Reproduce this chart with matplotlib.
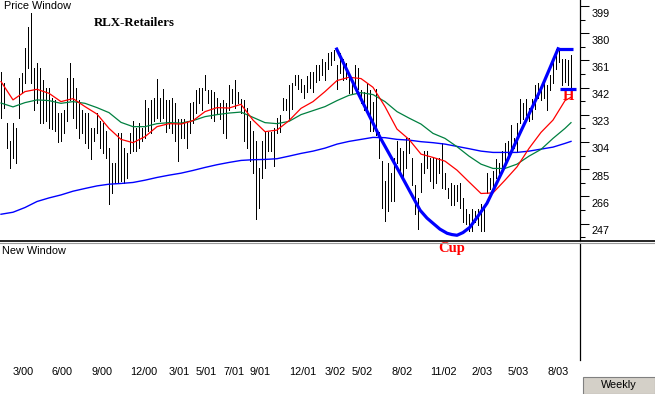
import matplotlib
matplotlib.use('Agg')
import matplotlib.pyplot as plt
import numpy as np
import pandas as pd
from matplotlib.lines import Line2D
from matplotlib.patches import Rectangle
from matplotlib.ticker import AutoMinorLocator
from matplotlib.transforms import ScaledTranslation

plt.rcParams['font.family'] = ['Liberation Sans', 'DejaVu Sans']

# weekly high / low of RLX, one bar per week starting 2000-02-04
start_date = '2000-02-04'
high = [353, 345, 317, 305, 317, 314, 349, 352, 370, 384, 394, 356, 359, 356, 347, 342, 342, 335, 333, 324,
        324, 326, 349, 359, 349, 342, 333, 326, 324, 324, 314, 314, 324, 319, 317, 312, 300, 289, 289, 310,
        310, 300, 296, 310, 319, 314, 317, 314,
        333, 328, 333, 335, 348, 335, 341, 333, 333, 335, 331, 320, 320, 320, 319, 331, 332, 340, 342, 342,
        351, 340, 340, 339, 335, 331, 333, 331, 344, 341, 347, 339, 334, 333, 328, 319, 312, 305, 286, 305,
        311, 311, 311, 314, 321, 323, 335, 334,
        344, 345, 351, 351, 348, 344, 350, 353, 353, 358, 358, 362, 360, 366, 367, 368, 358, 366, 362, 359,
        351, 347, 358, 356, 340, 339, 345, 340, 332, 341, 311, 291, 277, 289, 282, 293, 305, 300, 298, 307,
        307, 293, 274, 265, 289, 298, 298, 293, 293,
        293, 293, 303, 282, 272, 275, 274, 274, 275, 265, 257, 254, 257, 256, 257, 261, 258, 282, 279, 284,
        292, 289, 298, 303, 305, 316, 307, 317, 334, 331, 334, 328, 334, 344, 345, 342, 345, 344, 351, 361,
        369, 370, 362, 362, 361, 365]
low = [321, 328, 300, 286, 293, 289, 321, 338, 345, 356, 345, 326, 331, 317, 317, 319, 314, 313, 312, 304,
       305, 310, 319, 333, 321, 314, 307, 310, 303, 300, 292, 305, 310, 300, 296, 293, 261, 268, 275, 275,
       277, 275, 279, 296, 298, 298, 300, 305,
       307, 312, 310, 319, 321, 319, 321, 311, 314, 310, 305, 291, 307, 307, 300, 310, 317, 324, 331, 326,
       340, 331, 321, 319, 324, 320, 310, 307, 326, 331, 328, 331, 324, 305, 300, 291, 282, 250, 258, 279,
       286, 298, 298, 287, 310, 311, 326, 326,
       320, 327, 344, 341, 339, 335, 339, 342, 339, 346, 347, 351, 347, 355, 358, 361, 341, 352, 347, 348,
       338, 338, 342, 341, 331, 326, 326, 312, 312, 309, 293, 258, 249, 256, 263, 263, 289, 284, 278, 286,
       296, 274, 254, 243, 269, 282, 286, 277, 272,
       275, 282, 272, 271, 265, 260, 260, 263, 258, 248, 247, 242, 242, 248, 246, 242, 242, 268, 271, 272,
       279, 282, 284, 289, 293, 296, 300, 298, 317, 320, 323, 319, 320, 327, 335, 333, 335, 326, 340, 345,
       355, 360, 344, 346, 344, 341]

# moving averages read every 4th week
ma_idx = list(range(0, 189, 4)) + [190]
red_ma = [346.2, 333.4, 339.2, 340.8, 338.0, 332.2, 334.3, 328.7, 323.5, 313.5,
          305.8, 303.5, 307.7, 314.7, 316.8, 316.5, 318.9, 325.2, 328.0, 327.7,
          330.3, 319.3, 311.2, 312.3, 318.9, 327.5, 332.2, 339.2, 346.9, 349.2,
          348.3, 342.2, 328.7, 313.0, 305.8, 295.5, 293.2, 290.6, 284.3, 276.1,
          268.0, 268.4, 277.3, 286.6, 299.5, 310.7, 319.3, 332.9, 335.2]
green_ma = [331.2, 328.5, 331.5, 333.4, 332.9, 331.0, 332.2, 331.0, 328.0, 324.5,
            317.7, 314.7, 314.7, 316.8, 317.5, 317.2, 318.9, 321.7, 323.1, 324.2,
            324.9, 321.2, 317.5, 316.8, 318.4, 323.1, 325.9, 328.7, 332.9, 336.6,
            338.5, 337.1, 332.2, 325.2, 320.7, 316.5, 310.0, 306.5, 300.7, 294.1,
            288.5, 285.5, 285.5, 288.5, 294.1, 298.8, 306.5, 313.5, 317.5]
blue_ma = [253.5, 254.9, 258.2, 262.4, 264.9, 267.0, 269.6, 271.5, 273.3, 274.5,
           275.0, 275.7, 277.3, 279.2, 280.8, 282.2, 284.1, 286.2, 288.1, 289.7,
           291.1, 291.6, 291.8, 292.3, 294.1, 296.0, 297.6, 299.7, 302.5, 304.4,
           305.8, 307.2, 307.0, 305.8, 305.3, 304.2, 303.5, 302.5, 300.9, 299.3,
           297.6, 296.7, 296.7, 296.7, 297.6, 299.0, 300.4, 303.0, 304.4]

# hand drawn cup and handle
cup_x = [111.9, 119.0, 126.3, 133.0, 139.7, 142.0, 144.0, 146.3, 148.7, 150.3, 152.0, 154.0,
         156.3, 159.0, 162.0, 167.3, 173.0, 180.3, 185.7]
cup_y = [368.9, 338.3, 307.4, 282.2, 256.3, 250.8, 247.2, 243.1, 240.2, 239.3, 238.8, 240.7,
         244.4, 252.2, 261.2, 284.3, 310.2, 342.5, 369.1]
rim_x = [185.3, 190.7]
rim_price = 369.1
handle_x = [186.3, 191.7]
handle_price = 341.0

date_labels = ['3/00', '6/00', '9/00', '12/00', '3/01', '5/01', '7/01', '9/01', '12/01',
               '3/02', '5/02', '8/02', '11/02', '2/03', '5/03', '8/03']
y_ticks = [247, 266, 285, 304, 323, 342, 361, 380, 399]

W, H = 655, 394
fig = plt.figure(figsize=(W / 100, H / 100), dpi=100)
ax = fig.add_axes([0, 1 - 240 / H, 580 / W, 240 / H])
ax2 = fig.add_axes([0, 1 - 360 / H, 580 / W, 117 / H])

idx = np.arange(len(high))
ax.vlines(idx, low, high, color='black', lw=0.7, antialiased=False, zorder=2)
ax.plot(ma_idx, blue_ma, color='#0000ff', lw=1.0, zorder=3)
ax.plot(ma_idx, green_ma, color='#008040', lw=0.9, zorder=3)
ax.plot(ma_idx, red_ma, color='#ff0000', lw=0.9, zorder=3)
ax.plot(cup_x, cup_y, color='#0000ff', lw=2.3, zorder=4, solid_joinstyle='round')
ax.plot(rim_x, [rim_price, rim_price], color='#0000ff', lw=2.3, zorder=4, solid_capstyle='butt')
ax.plot(handle_x, [handle_price, handle_price], color='#0000ff', lw=2.3, zorder=4, solid_capstyle='butt')

ax.set_xlim(-1 / 3, 193)
ax.set_ylim(235.5, 403.2)
ax2.set_xlim(-1 / 3, 193)
ax2.set_ylim(0, 1)

for s in ['top', 'left', 'bottom']:
    ax.spines[s].set_visible(False)
    ax2.spines[s].set_visible(False)
ax.spines['right'].set_linewidth(0.9)
ax2.spines['right'].set_linewidth(0.9)
ax2.patch.set_visible(False)

ax.yaxis.tick_right()
ax.set_yticks(y_ticks)
ax.yaxis.set_minor_locator(AutoMinorLocator(2))
ax.tick_params(axis='y', which='major', length=6.5, width=0.75, pad=2, labelsize=7.8, direction='out')
ax.tick_params(axis='y', which='minor', length=3.5, width=0.75, direction='out')
ax.set_xticks([])
shift = ScaledTranslation(0, -2.5 / 100, fig.dpi_scale_trans)
for t in ax.get_yticklabels():
    t.set_va('top')
    t.set_transform(t.get_transform() + shift)

dates = pd.date_range(start_date, periods=len(high), freq='W-FRI')
tick_pos = []
for lab in date_labels:
    m, y = lab.split('/')
    tick_pos.append(int(np.argmax((dates.month == int(m)) & (dates.year == 2000 + int(y)))))
ax2.set_yticks([])
ax2.set_xticks(tick_pos, date_labels)
ax2.tick_params(axis='x', length=0, pad=5, labelsize=7.8)
for t in ax2.get_xticklabels():
    t.set_ha('left')

fig.text(4 / W, 1 - 1 / H, 'Price Window', ha='left', va='top', fontsize=7.8)
fig.text(2 / W, 1 - 246 / H, 'New Window', ha='left', va='top', fontsize=7.8)
fig.text(94 / W, 1 - 26 / H, 'RLX-Retailers', family='Liberation Serif', weight='bold',
         fontsize=9.3, va='baseline', ha='left')
ax.text(150.3, 227.3, 'Cup', color='#ff0000', family='Liberation Serif', weight='bold',
        fontsize=10.5, ha='center', va='baseline', clip_on=False)
ax.text(189.3, 333.3, 'H', color='#ff0000', family='Liberation Serif', weight='bold',
        fontsize=10.5, ha='center', va='baseline', clip_on=False)

fig.add_artist(Line2D([0, 1], [1 - 240.5 / H] * 2, transform=fig.transFigure, color='black', lw=1.2))
fig.add_artist(Line2D([0, 1], [1 - 243 / H] * 2, transform=fig.transFigure, color='#9a9a9a', lw=0.8))

fig.add_artist(Rectangle((583 / W, 0), 72 / W, 17 / H, transform=fig.transFigure,
                         facecolor='#d4d0c8', edgecolor='#808080', lw=0.8))
fig.text(619 / W, 1 - 385 / H, 'Weekly', ha='center', va='center', fontsize=7.8)

fig.savefig('out.png', dpi=100)
